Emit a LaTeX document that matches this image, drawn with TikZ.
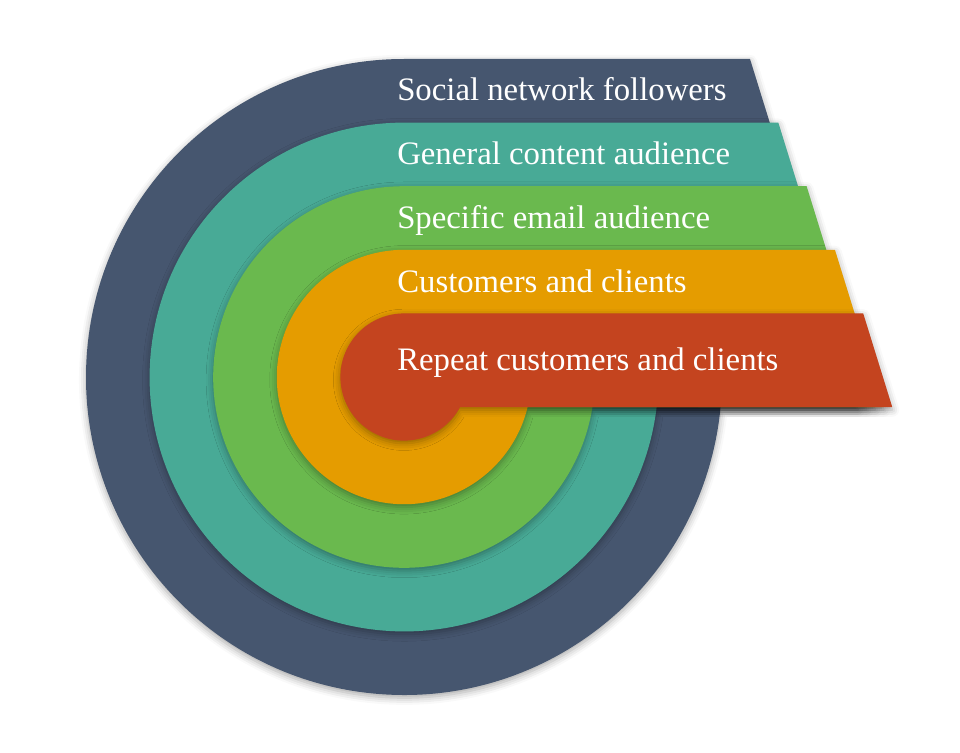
\documentclass[tikz,border=0pt]{standalone}
\usepackage{fontspec}
\setmainfont{Liberation Serif}
\usetikzlibrary{shadows.blur}
\definecolor{social}{HTML}{46566F}
\definecolor{general}{HTML}{48AA96}
\definecolor{email}{HTML}{6AB94E}
\definecolor{customers}{HTML}{E59C00}
\definecolor{repeatc}{HTML}{C4441F}
\tikzset{
  ring/.style={fill=#1, blur shadow={shadow xshift=0pt, shadow yshift=-2pt,
      shadow blur radius=5pt, shadow opacity=35}},
  bandtext/.style={text=white, anchor=base west, inner sep=0pt,
      font=\fontsize{23.3}{28}\selectfont}
}
\begin{document}
\begin{tikzpicture}[x=0.25mm,y=-0.25mm]
  \useasboundingbox (0,0) rectangle (960,753);
  \foreach \lvl/\col/\base/\nm/\txt in {
      5/social/100/social/Social network followers,
      4/general/164/general/General content audience,
      3/email/228/email/Specific email audience,
      2/customers/292/customers/Customers and clients,
      1/repeatc/370/repeat/Repeat customers and clients}{
    \pgfmathsetmacro{\rad}{63.6*\lvl}
    \pgfmathsetmacro{\ang}{asin(30/\rad)}
    \pgfmathsetmacro{\tx}{891.5-28.3*\lvl}
    \pgfmathsetmacro{\bx}{\tx+0.31*(30+\rad)}
    \fill[ring=\col] ([shift={(404,377)}]\ang:\rad)
      arc[start angle=\ang, end angle=270, radius=\rad]
      -- (\tx,377-\rad) -- (\bx,407) -- cycle;
    \node[bandtext] (\nm) at (397,\base) {\txt};
  }
\end{tikzpicture}
\end{document}
